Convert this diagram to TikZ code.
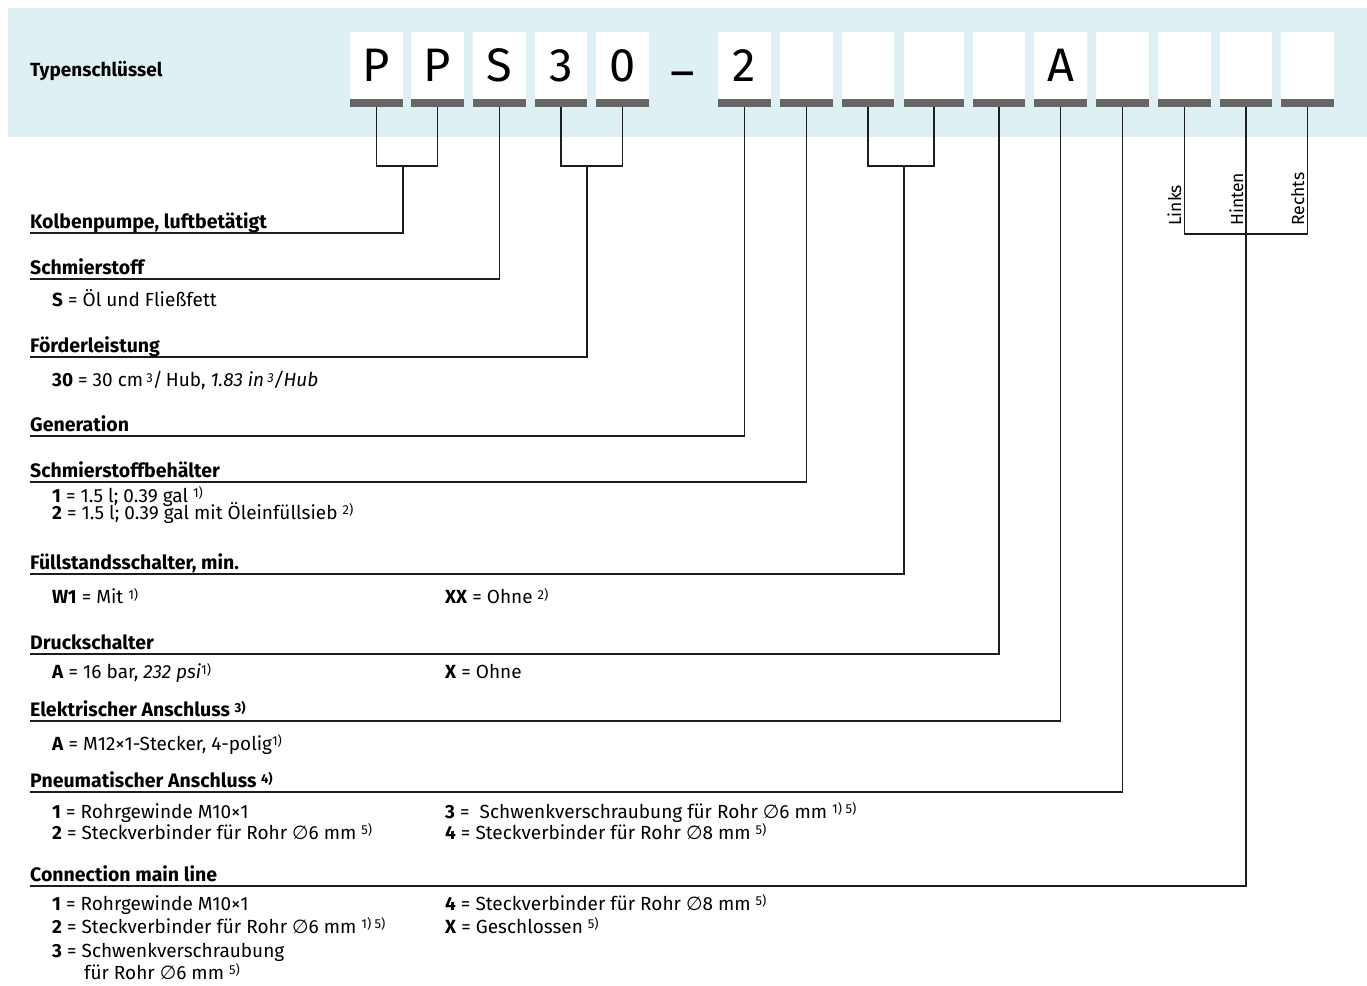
\documentclass[tikz,border=0pt]{standalone}
\usepackage{fontspec}
\setmainfont{Fira Sans}
\newfontfamily\symf{DejaVu Sans}
\usetikzlibrary{calc,positioning}
\definecolor{bandblue}{HTML}{DFF0F4}
\definecolor{bargray}{HTML}{666666}
\definecolor{linegray}{HTML}{1E1E1E}
\tikzstyle{keybox}=[fill=white,minimum height=67pt,inner sep=0pt,outer sep=0pt,font=\fontsize{47}{47}\selectfont]
\tikzstyle{keybar}=[fill=bargray,minimum height=8pt,inner sep=0pt,outer sep=0pt]
\tikzstyle{head}=[anchor=base west,inner sep=0pt,font=\fontsize{19.5}{22}\selectfont\bfseries]
\tikzstyle{item}=[anchor=base west,inner sep=0pt,font=\fontsize{19}{22}\selectfont]
\tikzstyle{side}=[anchor=base west,rotate=90,inner sep=0pt,font=\fontsize{17.5}{20}\selectfont]
\tikzstyle{conn}=[draw=linegray,line width=1.3pt]
\newcommand{\fn}[1]{\raisebox{4.5pt}{\fontsize{13}{13}\selectfont #1}}
\newcommand{\dia}{{\symf ∅}}

\begin{document}
\begin{tikzpicture}[x=1pt,y=-1pt]
    \useasboundingbox (0,0) rectangle (1367,985);
    \fill[bandblue] (8,8) rectangle (1367,137);
    \node[anchor=base west,inner sep=0pt,font=\fontsize{19}{22}\selectfont\bfseries] (title) at (30,76) {Typenschlüssel};

    \foreach \n/\x/\w/\c in {1/376.5/53/P,2/437.5/53/P,3/499.5/53/S,4/561/52/3,5/622.5/53/0,
                             6/744.5/53/2,7/806.5/53/,8/868/52/,9/934/60/,10/999/52/,
                             11/1060.5/53/A,12/1122.5/53/,13/1184.5/53/,14/1246/52/,15/1307.5/53/} {
      \node[keybox,minimum width=\w pt] (k\n) at (\x,65.5) {\c};
      \node[keybar,minimum width=\w pt,below=0pt of k\n] (b\n) {};
    }
    \node[font=\fontsize{47}{47}\selectfont,inner sep=0pt] (kdash) at (683,80) {–};

    \coordinate (j1) at (403,166);
    \coordinate (j2) at (587,166);
    \coordinate (j3) at (904,166);
    \coordinate (j4) at (1246,234);
    \coordinate (u1) at (30,233);
    \coordinate (u2) at (30,279);
    \coordinate (u3) at (30,357);
    \coordinate (u4) at (30,436);
    \coordinate (u5) at (30,482);
    \coordinate (u6) at (30,574);
    \coordinate (u7) at (30,654);
    \coordinate (u8) at (30,721);
    \coordinate (u9) at (30,792);
    \coordinate (u10) at (30,886);

    \draw[conn] (b1.south) |- (j1) -| (b2.south);
    \draw[conn] (j1) |- (u1);
    \draw[conn] (b3.south) |- (u2);
    \draw[conn] (b4.south) |- (j2) -| (b5.south);
    \draw[conn] (j2) |- (u3);
    \draw[conn] (b6.south) |- (u4);
    \draw[conn] (b7.south) |- (u5);
    \draw[conn] (b8.south) |- (j3) -| (b9.south);
    \draw[conn] (j3) |- (u6);
    \draw[conn] (b10.south) |- (u7);
    \draw[conn] (b11.south) |- (u8);
    \draw[conn] (b12.south) |- (u9);
    \draw[conn] (b13.south) |- (j4) -| (b15.south);
    \draw[conn] (b14.south) |- (u10);

    \node[side] (links) at (1181,226) {Links};
    \node[side] (hinten) at (1243,226) {Hinten};
    \node[side] (rechts) at (1304,226) {Rechts};

    \node[head] (h1) at (30,228.5) {Kolbenpumpe, luftbetätigt};
    \node[head] (h2) at (30,274.5) {Schmierstoff};
    \node[item] (s1) at (52,306.5) {\textbf{S} = Öl und Fließfett};
    \node[head] (h3) at (30,352.5) {Förderleistung};
    \node[item] (f1) at (52,386.5) {\textbf{30} = 30 cm\,\fn{3}/\,Hub, \textit{1.83 in\,\fn{3}/Hub}};
    \node[head] (h4) at (30,431.5) {Generation};
    \node[head] (h5) at (30,477.5) {Schmierstoffbehälter};
    \node[item] (b1a) at (52,502) {\textbf{1} = 1.5 l; 0.39 gal \fn{1)}};
    \node[item] (b1b) at (52,519) {\textbf{2} = 1.5 l; 0.39 gal mit Öleinfüllsieb \fn{2)}};
    \node[head] (h6) at (30,569.5) {Füllstandsschalter, min.};
    \node[item] (w1) at (52,603.5) {\textbf{W1} = Mit \fn{1)}};
    \node[item] (w2) at (445,603.5) {\textbf{XX} = Ohne \fn{2)}};
    \node[head] (h7) at (30,649.5) {Druckschalter};
    \node[item] (d1) at (52,678.5) {\textbf{A} = 16 bar, \textit{232 psi}\fn{1)}};
    \node[item] (d2) at (445,678.5) {\textbf{X} = Ohne};
    \node[head] (h8) at (30,716.5) {Elektrischer Anschluss \fn{3)}};
    \node[item] (e1) at (52,750) {\textbf{A} = M12×1-Stecker, 4-polig\fn{1)}};
    \node[head] (h9) at (30,787.5) {Pneumatischer Anschluss \fn{4)}};
    \node[item] (p1) at (52,818) {\textbf{1} = Rohrgewinde M10×1};
    \node[item] (p2) at (52,839) {\textbf{2} = Steckverbinder für Rohr \dia6 mm \fn{5)}};
    \node[item] (p3) at (445,818) {\textbf{3} = \ Schwenkverschraubung für Rohr \dia6 mm \fn{1) 5)}};
    \node[item] (p4) at (445,839) {\textbf{4} = Steckverbinder für Rohr \dia8 mm \fn{5)}};
    \node[head] (h10) at (30,881.5) {Connection main line};
    \node[item] (c1) at (52,910) {\textbf{1} = Rohrgewinde M10×1};
    \node[item] (c2) at (52,933) {\textbf{2} = Steckverbinder für Rohr \dia6 mm \fn{1) 5)}};
    \node[item] (c3) at (52,957) {\textbf{3} = Schwenkverschraubung};
    \node[item] (c3b) at (84,979) {für Rohr \dia6 mm \fn{5)}};
    \node[item] (c4) at (445,910) {\textbf{4} = Steckverbinder für Rohr \dia8 mm \fn{5)}};
    \node[item] (c5) at (445,933) {\textbf{X} = Geschlossen \fn{5)}};
\end{tikzpicture}
\end{document}
